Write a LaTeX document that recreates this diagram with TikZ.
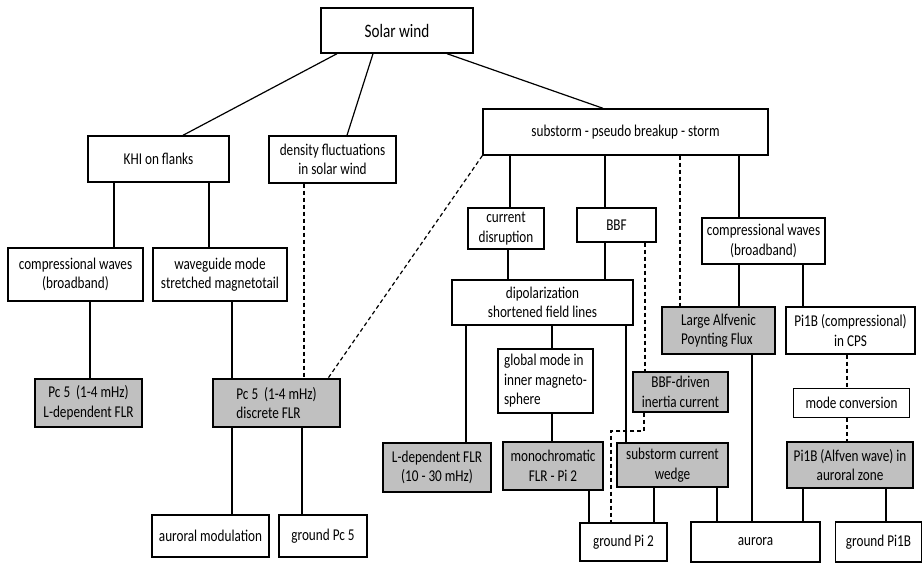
\documentclass[tikz,border=0pt]{standalone}
\usepackage{fontspec}
\setmainfont{Carlito}[FakeStretch=0.8]
\usetikzlibrary{calc}
\definecolor{boxgray}{RGB}{192,192,192}
\tikzset{
  base/.style={draw=black, line width=1.4pt, align=center, inner sep=2pt,
    font=\fontsize{16.5}{19.5}\selectfont},
  wbox/.style={base, fill=white},
  gbox/.style={base, fill=boxgray},
  conn/.style={line width=1.2pt},
  dconn/.style={line width=1.2pt, dash pattern=on 4pt off 3pt},
}
\begin{document}
\begin{tikzpicture}[x=1pt,y=-1pt]
\useasboundingbox (0,0) rectangle (923,564);
% nodes
\node[wbox,minimum width=152pt,minimum height=45pt,font=\fontsize{19}{22}\selectfont] (sw) at (397,30.5) {Solar wind};
\node[wbox,minimum width=141pt,minimum height=46pt] (khi) at (158.5,159) {KHI on flanks};
\node[wbox,minimum width=127pt,minimum height=47pt] (dens) at (332.5,159.5) {density fluctuations\\in solar wind};
\node[wbox,minimum width=285pt,minimum height=46pt] (sub) at (625.5,132) {substorm - pseudo breakup - storm};
\node[wbox,minimum width=135pt,minimum height=53pt] (cwl) at (75.5,274.5) {compressional waves\\(broadband)};
\node[wbox,minimum width=134pt,minimum height=53pt] (wg) at (220,274.5) {waveguide mode\\stretched magnetotail};
\node[wbox,minimum width=76pt,minimum height=41pt] (cd) at (506,228.5) {current\\disruption};
\node[wbox,minimum width=79pt,minimum height=34pt] (bbf) at (616.5,225) {BBF};
\node[wbox,minimum width=123pt,minimum height=46pt] (cwr) at (763.5,241) {compressional waves\\(broadband)};
\node[wbox,minimum width=181pt,minimum height=45pt] (dip) at (542.5,302.5) {dipolarization\\shortened field lines};
\node[gbox,minimum width=113pt,minimum height=47pt,align=left] (laf) at (718.5,330.5) {Large Alfvenic\\Poynting Flux};
\node[wbox,minimum width=129pt,minimum height=47pt] (pic) at (850.5,330.5) {Pi1B (compressional)\\in CPS};
\node[gbox,minimum width=107pt,minimum height=48pt] (pcl) at (88.5,403) {Pc 5\ \ (1-4 mHz)\\L-dependent FLR};
\node[gbox,minimum width=127pt,minimum height=48pt,align=left] (pcd) at (276.5,403) {Pc 5\ \ (1-4 mHz)\\discrete FLR};
\node[wbox,minimum width=95pt,minimum height=64pt,align=left] (gm) at (545.5,381) {global mode in\\inner magneto-\\sphere};
\node[gbox,minimum width=95pt,minimum height=40pt] (bbd) at (680.5,392) {BBF-driven\\inertia current};
\node[wbox,minimum width=116pt,minimum height=29pt] (mc) at (851.5,403) {mode conversion};
\node[gbox,minimum width=108pt,minimum height=49pt] (ldf) at (437,467.5) {L-dependent FLR\\(10 - 30 mHz)};
\node[gbox,minimum width=100pt,minimum height=48pt] (mono) at (553,466) {monochromatic\\FLR - Pi 2};
\node[gbox,minimum width=111pt,minimum height=44pt] (scw) at (672.5,465) {substorm current\\wedge};
\node[gbox,minimum width=126pt,minimum height=46pt] (pia) at (850,465) {Pi1B (Alfven wave) in\\auroral zone};
\node[wbox,minimum width=117pt,minimum height=42pt] (am) at (210.5,536) {auroral modulation};
\node[wbox,minimum width=88pt,minimum height=42pt] (gpc) at (323,536) {ground Pc 5};
\node[wbox,minimum width=87pt,minimum height=38pt] (gp2) at (623.5,542) {ground Pi 2};
\node[wbox,minimum width=129pt,minimum height=40pt] (aur) at (755.5,542) {aurora};
\node[wbox,minimum width=86pt,minimum height=40pt] (gpb) at (878.5,542) {ground Pi1B};
% connectors from Solar wind
\draw[conn] ([xshift=-60pt]sw.south) -- ([xshift=24.5pt]khi.north);
\draw[conn] ([xshift=-24pt]sw.south) -- ([xshift=14.5pt]dens.north);
\draw[conn] ([xshift=50pt]sw.south) -- ([xshift=-22.5pt]sub.north);
% left branch
\draw[conn] ([xshift=-44.5pt]khi.south) -- ([xshift=-44.5pt]khi.south |- cwl.north);
\draw[conn] ([xshift=50.5pt]khi.south) -- ([xshift=50.5pt]khi.south |- wg.north);
\draw[conn] ([xshift=14.5pt]cwl.south) -- ([xshift=14.5pt]cwl.south |- pcl.north);
\draw[conn] ([xshift=12pt]wg.south) -- ([xshift=12pt]wg.south |- pcd.north);
\draw[dconn] ([xshift=-28.5pt]dens.south) -- ([xshift=-28.5pt]dens.south |- pcd.north);
\draw[dconn] (sub.south west) -- ([xshift=51.5pt]pcd.north);
\draw[conn] ([xshift=-44.5pt]pcd.south) -- ([xshift=-44.5pt]pcd.south |- am.north);
\draw[conn] ([xshift=25.5pt]pcd.south) -- ([xshift=25.5pt]pcd.south |- gpc.north);
% substorm branch
\draw[conn] ([xshift=-115.5pt]sub.south) -- ([xshift=-115.5pt]sub.south |- cd.north);
\draw[conn] ([xshift=-20.5pt]sub.south) -- ([xshift=-20.5pt]sub.south |- bbf.north);
\draw[dconn] ([xshift=54.5pt]sub.south) -- ([xshift=54.5pt]sub.south |- laf.north);
\draw[conn] ([xshift=113.5pt]sub.south) -- ([xshift=113.5pt]sub.south |- cwr.north);
\draw[conn] ([xshift=2pt]cd.south) -- ([xshift=2pt]cd.south |- dip.north);
\draw[conn] ([xshift=-11.5pt]bbf.south) -- ([xshift=-11.5pt]bbf.south |- dip.north);
\draw[dconn] ([xshift=28.5pt]bbf.south) -- ([xshift=28.5pt]bbf.south |- bbd.north);
\draw[conn] ([xshift=-24.5pt]cwr.south) -- ([xshift=-24.5pt]cwr.south |- laf.north);
\draw[conn] ([xshift=39.5pt]cwr.south) -- ([xshift=39.5pt]cwr.south |- pic.north);
\draw[conn] ([xshift=-76.5pt]dip.south) -- ([xshift=-76.5pt]dip.south |- ldf.north);
\draw[conn] ([xshift=9.5pt]dip.south) -- ([xshift=9.5pt]dip.south |- gm.north);
\draw[conn] ([xshift=83.5pt]dip.south) -- ([xshift=83.5pt]dip.south |- scw.north);
\draw[conn] ([xshift=6.5pt]gm.south) -- ([xshift=6.5pt]gm.south |- mono.north);
\draw[dconn] ([xshift=-3.5pt]pic.south) -- ([xshift=-3.5pt]pic.south |- mc.north);
\draw[dconn] ([xshift=-4.5pt]mc.south) -- ([xshift=-4.5pt]mc.south |- pia.north);
\coordinate (k1) at (644,431);
\coordinate (k2) at (611,431);
\draw[dconn] ([xshift=-36.5pt]bbd.south) -- (k1) -- (k2) -- (k2 |- gp2.north);
\draw[conn] ([xshift=36pt]mono.south) -- ([xshift=36pt]mono.south |- gp2.north);
\draw[conn] ([xshift=-18.5pt]scw.south) -- ([xshift=-18.5pt]scw.south |- gp2.north);
\draw[conn] ([xshift=44.5pt]scw.south) -- ([xshift=44.5pt]scw.south |- aur.north);
\draw[conn] ([xshift=33.5pt]laf.south) -- ([xshift=33.5pt]laf.south |- aur.north);
\draw[conn] ([xshift=-47pt]pia.south) -- ([xshift=-47pt]pia.south |- aur.north);
\draw[conn] ([xshift=36pt]pia.south) -- ([xshift=36pt]pia.south |- gpb.north);
\end{tikzpicture}
\end{document}
